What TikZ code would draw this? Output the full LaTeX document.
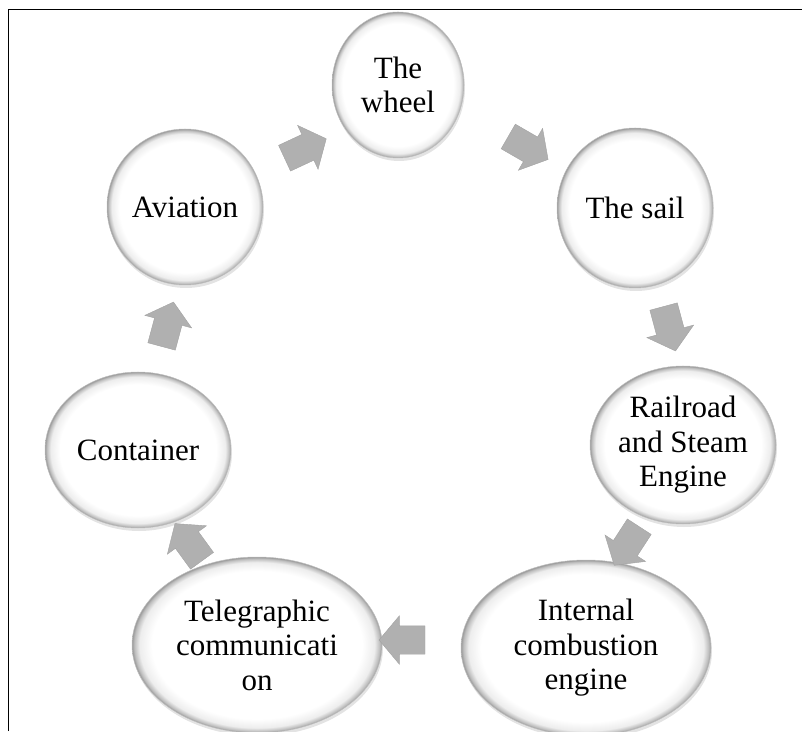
\documentclass[tikz,border=0pt]{standalone}
\usepackage{fontspec}
\setmainfont{Liberation Serif}
\usetikzlibrary{shapes,arrows,shadows}
\pgfdeclareradialshading{rim}{\pgfpoint{0bp}{0bp}}{color(0bp)=(white); color(21bp)=(white); color(23.5bp)=(white!93!black); color(24.5bp)=(white!75!black); color(25bp)=(white!60!black); color(50bp)=(white!60!black)}
\tikzstyle{B} = [ellipse,
			shading=rim, draw=gray!50, line width=0.5pt,
			drop shadow={shadow xshift=1pt, shadow yshift=-3pt, opacity=0.22},
			align=center, inner sep=0pt,
			font=\fontsize{31}{34.5}\selectfont]
\tikzstyle{A} = [single arrow,
			fill=gray!62, draw=gray!72,
			single arrow head extend=10pt, single arrow tip angle=100,
			minimum height=46pt, inner xsep=3pt, inner ysep=14pt]

\begin{document}
\begin{tikzpicture}[x=1pt, y=1pt]

\useasboundingbox (0,0) rectangle (802,731);

\draw [line width=0.8pt] (8,0) -- (8,722) -- (802,722);

\node [B, minimum width=132pt, minimum height=146pt] at (398,646)
(wheel)
	{The\\wheel};

\node [B, minimum width=156pt, minimum height=160pt] at (635,523)
(sail)
	{The sail};

\node [B, minimum width=186pt, minimum height=158pt] at (683,286)
(rail)
	{Railroad\\and Steam\\Engine};

\node [B, minimum width=250pt, minimum height=176pt] at (586,83)
(ice)
	{Internal\\combustion\\engine};

\node [B, minimum width=250pt, minimum height=176pt] at (257,86)
(tel)
	{Telegraphic\\communicati\\on};

\node [B, minimum width=186pt, minimum height=156pt] at (138,281)
(cont)
	{Container};

\node [B, minimum width=156pt, minimum height=156pt] at (185,524)
(avi)
	{Aviation};

% arrows between the steps
\node [A, rotate=25] at (300,580) (avi-wheel) {};
\node [A, rotate=-30] at (523,586) (wheel-sail) {};
\node [A, rotate=-75] at (668,408) (sail-rail) {};
\node [A, rotate=-123] at (630,190) (rail-ice) {};
\node [A, rotate=180] at (408,91) (ice-tel) {};
\node [A, rotate=126] at (192,184) (tel-cont) {};
\node [A, rotate=75] at (166,401) (cont-avi) {};

\end{tikzpicture}
\end{document}
